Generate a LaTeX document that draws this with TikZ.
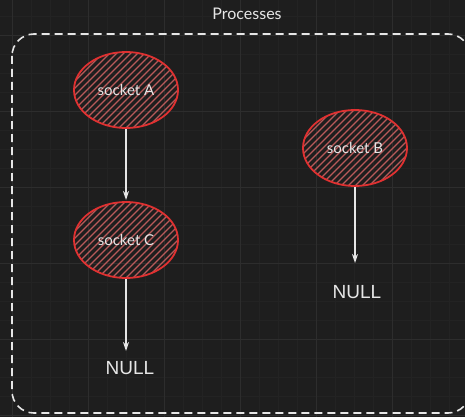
\documentclass[tikz,border=0pt]{standalone}
\usepackage{fontspec}
\setmainfont{Lato}
\newfontfamily\nulltxtfont{Liberation Sans}
\usetikzlibrary{shapes.geometric,arrows.meta,calc}
\definecolor{bgc}{HTML}{1E1E1E}
\definecolor{gridmaj}{HTML}{2D2D2D}
\definecolor{gridmin}{HTML}{232323}
\definecolor{redline}{HTML}{E03131}
\definecolor{hatchc}{HTML}{B85A5A}
\definecolor{txt}{HTML}{E6E6E6}
\tikzset{
  sock/.style={ellipse, draw=redline, line width=1.8pt, minimum width=104pt, minimum height=76pt, inner sep=0pt,
    text=txt, font=\fontsize{15}{16}\selectfont,
    path picture={\foreach \i in {-130,-123,...,130}{
      \draw[hatchc, line width=1.1pt] ($(path picture bounding box.center)+(\i-70,70)$) -- ++(140,-140);}}},
  link/.style={draw=txt, line width=1.3pt, -{Stealth[length=9pt,width=6pt]}},
  nulltext/.style={text=txt, font=\nulltxtfont\fontsize{19}{20}\selectfont, inner sep=0pt},
  frame/.style={draw=txt, line width=1.6pt, dash pattern=on 8pt off 5pt, rounded corners=22pt},
}
\begin{document}
\begin{tikzpicture}[x=1pt,y=-1pt]
\useasboundingbox (0,0) rectangle (465,417);
\fill[bgc] (0,0) rectangle (465,417);
\foreach \x in {0,19,...,465} \draw[gridmin, line width=0.5pt] (\x+12,0) -- (\x+12,417);
\foreach \y in {0,19,...,417} \draw[gridmin, line width=0.5pt] (0,\y+16) -- (465,\y+16);
\foreach \x in {12,88,...,465} \draw[gridmaj, line width=0.8pt] (\x,0) -- (\x,417);
\foreach \y in {35,111,...,417} \draw[gridmaj, line width=0.8pt] (0,\y) -- (465,\y);
\draw[frame] (12,34) rectangle (470,413);
\node[text=txt, font=\fontsize{16}{17}\selectfont] (title) at (247,14) {Processes};
\node[sock] (A) at (126,90) {socket A};
\node[sock] (B) at (355,148) {socket B};
\node[sock] (C) at (126,240) {socket C};
\node[nulltext] (N1) at (130,368) {NULL};
\node[nulltext] (N2) at (357,292) {NULL};
\coordinate (endA) at (126,200);
\coordinate (endC) at (126,351);
\coordinate (endB) at (355,263);
\draw[link] (A) -- (endA);
\draw[link] (C) -- (endC);
\draw[link] (B) -- (endB);
\end{tikzpicture}
\end{document}
